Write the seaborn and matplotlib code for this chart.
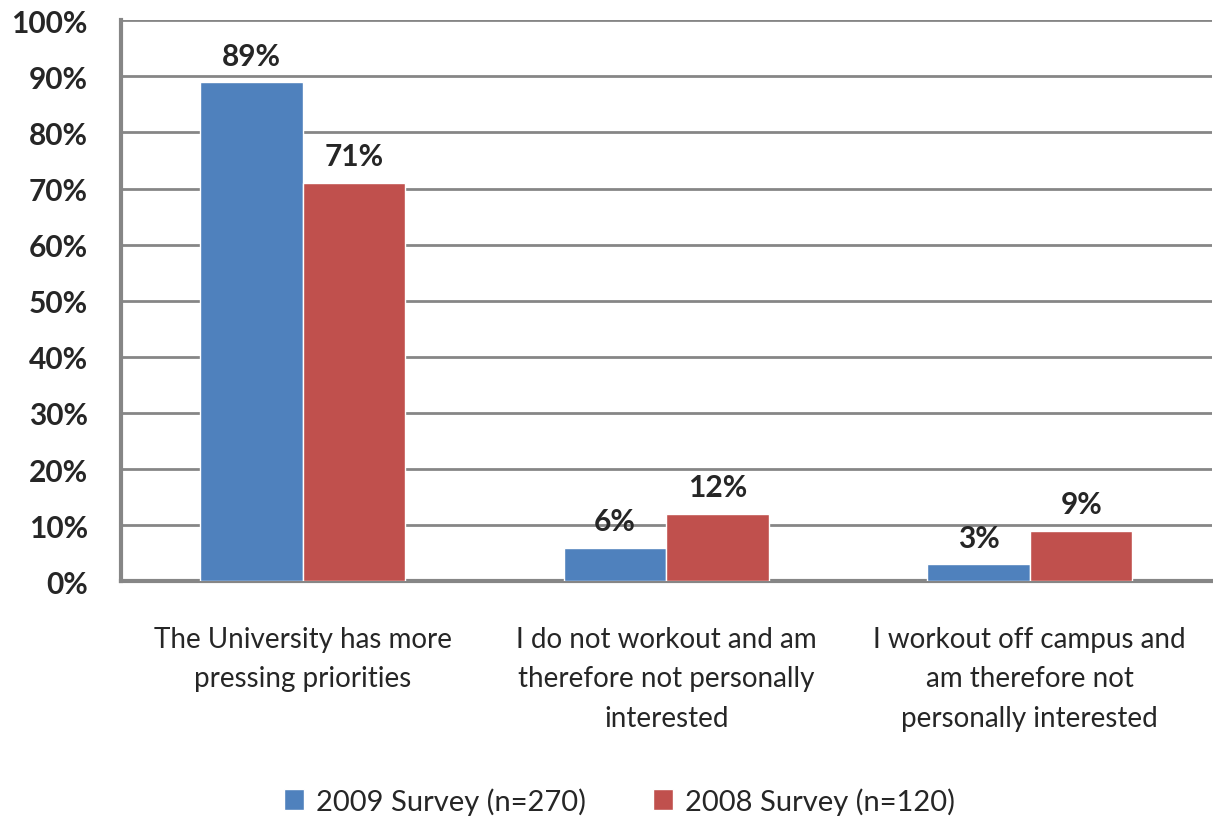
import pandas as pd
import seaborn as sns
import matplotlib.pyplot as plt
from matplotlib.ticker import FixedLocator

# Data
categories = ['The University has more\npressing priorities',
              'I do not workout and am\ntherefore not personally\ninterested',
              'I workout off campus and\nam therefore not\npersonally interested']
series = ['2009 Survey (n=270)', '2008 Survey (n=120)']
values_2009 = [89, 6, 3]
values_2008 = [71, 12, 9]
colors = ['#4F81BD', '#C0504D']
yticks = list(range(0, 101, 10))

df = pd.DataFrame({
    'Category': categories * 2,
    'Survey': [series[0]] * 3 + [series[1]] * 3,
    'Value': values_2009 + values_2008,
})

sns.set_style('white')
plt.rcParams['font.family'] = ['Lato', 'DejaVu Sans']

fig = plt.figure(figsize=(12.13, 8.2), dpi=100)
ax = fig.add_axes([0.0998, 0.290, 0.899, 0.684])

sns.barplot(data=df, x='Category', y='Value', hue='Survey', palette=colors,
            width=0.565, saturation=1, ax=ax, zorder=3)

# Value labels
for cont in ax.containers:
    ax.bar_label(cont, labels=[f'{v:.0f}%' for v in cont.datavalues],
                 padding=9, fontsize=21.5, fontweight='bold')

ax.set_ylim(0, 100)
ax.set_xlim(-0.5, 2.5)
ax.set_yticks(yticks)
ax.set_yticklabels([f'{v}%' for v in yticks], fontweight='bold')
ax.tick_params(axis='y', labelsize=21.5, length=10, color='#868686', width=2, pad=14)
ax.tick_params(axis='x', which='major', length=0, labelsize=20, pad=32)
for lab in ax.get_xticklabels():
    lab.set_linespacing(1.65)
ax.xaxis.set_minor_locator(FixedLocator([-0.5, 0.5, 1.5, 2.5]))
ax.tick_params(axis='x', which='minor', length=12, color='#868686', width=2)

ax.grid(axis='y', color='#868686', linewidth=2, zorder=0)
ax.set_axisbelow(True)
for side in ['top', 'right']:
    ax.spines[side].set_visible(False)
for side in ['left', 'bottom']:
    ax.spines[side].set_color('#868686')
    ax.spines[side].set_linewidth(3)
ax.set_xlabel('')
ax.set_ylabel('')

ax.legend(title=None, loc='center', bbox_to_anchor=(0.457, -0.392), ncol=2,
          frameon=False, fontsize=21, handlelength=0.7, handleheight=0.7,
          columnspacing=2.3, handletextpad=0.4)

fig.savefig('out.png', dpi=100)
